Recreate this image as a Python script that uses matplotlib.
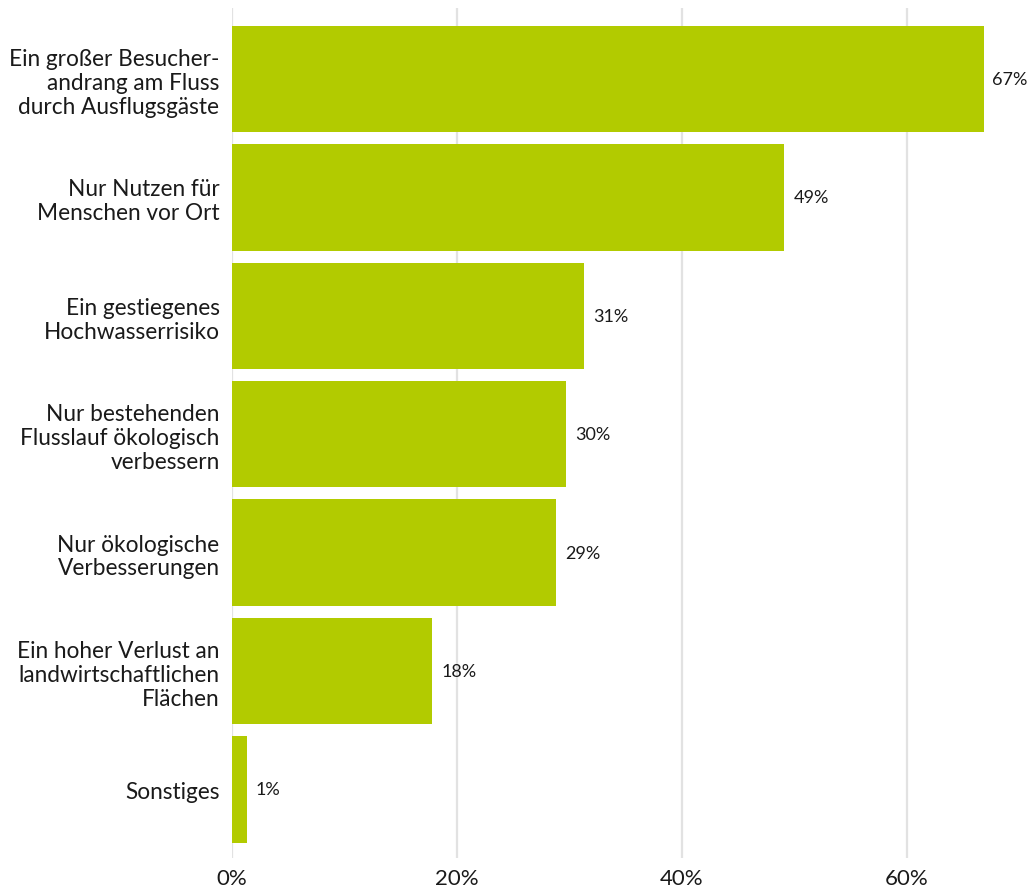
import matplotlib
matplotlib.use("Agg")
import matplotlib.pyplot as plt
from matplotlib.ticker import FuncFormatter

plt.rcParams['font.family'] = ['Lato', 'DejaVu Sans']

categories = [
    "Ein großer Besucher-\nandrang am Fluss\ndurch Ausflugsgäste",
    "Nur Nutzen für\nMenschen vor Ort",
    "Ein gestiegenes\nHochwasserrisiko",
    "Nur bestehenden\nFlusslauf ökologisch\nverbessern",
    "Nur ökologische\nVerbesserungen",
    "Ein hoher Verlust an\nlandwirtschaftlichen\nFlächen",
    "Sonstiges",
]
values = [66.8, 49.1, 31.3, 29.7, 28.8, 17.8, 1.3]
value_labels = ["67%", "49%", "31%", "30%", "29%", "18%", "1%"]
xticks = [0, 20, 40, 60]

bar_color = "#B2CB00"
text_color = "#1a1a1a"

fig = plt.figure(figsize=(10.33, 8.87), dpi=100)
ax = fig.add_axes([232/1033, 28/887, (1033-232)/1033, 850/887])

y = list(range(len(categories)))
ax.barh(y, values, height=0.9, color=bar_color, zorder=2)
ax.set_ylim(len(categories) - 1 + 0.58, -0.6)
ax.set_xlim(0, 71.2)

for yi, v, lab in zip(y, values, value_labels):
    ax.text(v + 0.8, yi, lab, va='center', ha='left', fontsize=13, color=text_color)

ax.set_yticks(y)
ax.set_yticklabels(categories, fontsize=16.3, color=text_color, linespacing=1.17)
ax.set_xticks(xticks)
ax.xaxis.set_major_formatter(FuncFormatter(lambda v, p: f"{v:.0f}%"))
ax.tick_params(axis='x', length=0, pad=7, labelsize=16, labelcolor=text_color)
ax.tick_params(axis='y', length=0, pad=9)

ax.grid(axis='x', color='#E2E2E2', linewidth=1.6, zorder=0)
for s in ax.spines.values():
    s.set_visible(False)

fig.savefig("out.png", dpi=100)
